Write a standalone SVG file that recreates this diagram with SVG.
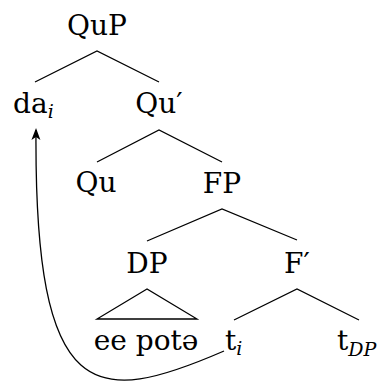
<svg xmlns="http://www.w3.org/2000/svg" width="382" height="383" viewBox="0 0 382 383">
<style>
text{font-family:'DejaVu Serif',serif;font-size:28px;fill:#000}
.sub{font-size:19px;font-style:italic}
.edge{fill:none;stroke:#000;stroke-width:1.3}
</style>
<defs>
<marker id="ah" markerUnits="userSpaceOnUse" markerWidth="16" markerHeight="12" viewBox="-13 -6 16 12" refX="0" refY="0" orient="auto">
<path d="M2,0 L-10,-4.5 L-7,0 L-10,4.5 Z" fill="#000"/>
</marker>
</defs>
<rect width="382" height="383" fill="#fff"/>
<g id="connectors">
<polyline class="edge" points="35,82 97,51 159,82"/>
<polyline class="edge" points="97,162 159,130 222,162"/>
<polyline class="edge" points="147,241 222,209 297,240"/>
<polyline class="edge" points="234,320 297,289 359,320"/>
<polygon class="edge" points="147,289 97,319 197,319"/>
<path class="edge" d="M224,351 C95,407 34,406 36,130" marker-end="url(#ah)"/>
</g>
<g id="QuP"><text x="97" y="35" text-anchor="middle">QuP</text></g>
<g id="da"><text x="13" y="113">da<tspan class="sub" dy="5">i</tspan></text></g>
<g id="Qu-bar"><text x="159" y="113" text-anchor="middle">Qu′</text></g>
<g id="Qu"><text x="96" y="192" text-anchor="middle">Qu</text></g>
<g id="FP"><text x="222" y="193" text-anchor="middle">FP</text></g>
<g id="DP"><text x="147" y="273" text-anchor="middle">DP</text></g>
<g id="F-bar"><text x="297" y="273" text-anchor="middle">F′</text></g>
<g id="ee-pote"><text x="146" y="350" text-anchor="middle">ee potə</text></g>
<g id="t-i"><text x="225" y="350">t<tspan class="sub" dy="5">i</tspan></text></g>
<g id="t-DP"><text x="337" y="350">t<tspan class="sub" dy="6">DP</tspan></text></g>
</svg>
